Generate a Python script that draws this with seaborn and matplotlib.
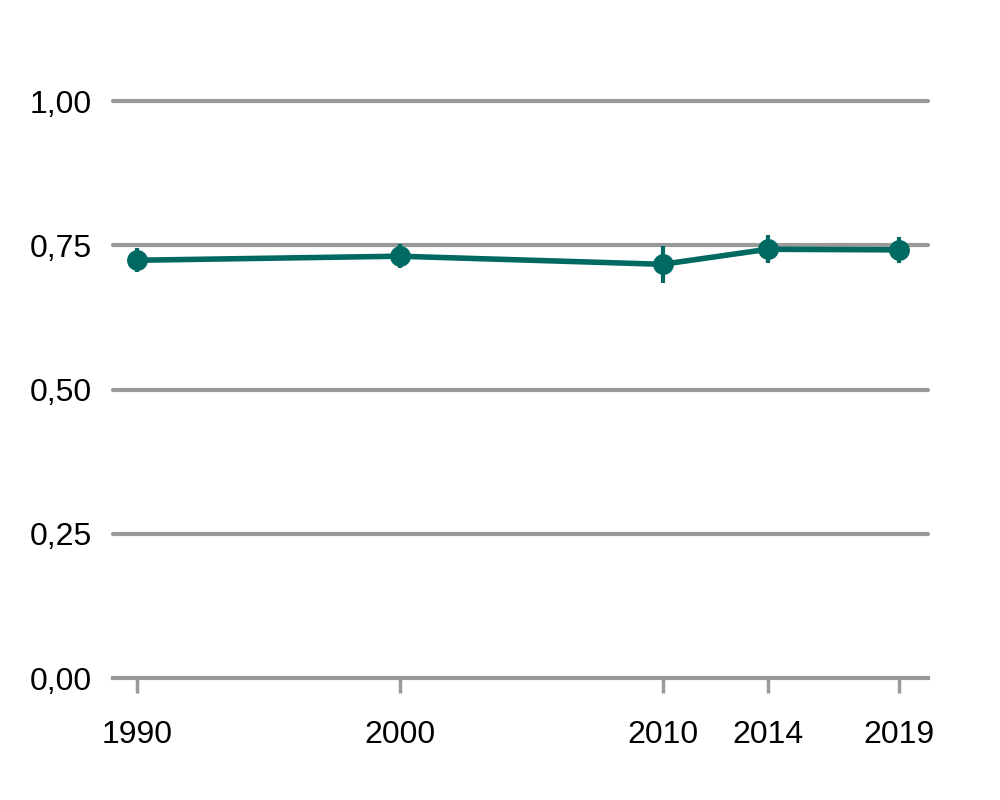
import matplotlib
matplotlib.use("Agg")
import matplotlib.pyplot as plt
import seaborn as sns
import pandas as pd
from matplotlib.ticker import FixedLocator, FuncFormatter

years = [1990, 2000, 2010, 2014, 2019]
values = [0.724, 0.731, 0.717, 0.743, 0.742]
errors = [0.021, 0.021, 0.032, 0.024, 0.023]
y_ticks = [0.0, 0.25, 0.5, 0.75, 1.0]

df = pd.DataFrame({"year": years, "value": values, "err": errors})

sns.set_theme(style="white")
plt.rcParams["font.family"] = ["Liberation Sans", "DejaVu Sans"]

color = "#006A62"
grid_color = "#999999"

fig = plt.figure(figsize=(10, 8), dpi=100)
ax = fig.add_axes([0.113, 0.1525, 0.815, 0.72125])

ax.errorbar(df["year"], df["value"], yerr=df["err"], fmt="none",
            ecolor=color, elinewidth=3, capsize=0, zorder=3)
sns.lineplot(data=df, x="year", y="value", ax=ax, color=color, linewidth=4,
             marker="o", markersize=15, markeredgewidth=0, zorder=4)

ax.set_xlim(1989.09, 2020.1)
ax.set_ylim(0, 1.0)
ax.yaxis.set_major_locator(FixedLocator(y_ticks))
ax.xaxis.set_major_locator(FixedLocator(years))
ax.yaxis.set_major_formatter(FuncFormatter(lambda v, p: f"{v:.2f}".replace(".", ",")))
ax.set_xlabel("")
ax.set_ylabel("")

for s in ["top", "right", "left"]:
    ax.spines[s].set_visible(False)
ax.spines["bottom"].set_color(grid_color)
ax.spines["bottom"].set_linewidth(3)

for yv in y_ticks[1:]:
    ax.axhline(yv, color=grid_color, linewidth=3, zorder=1, clip_on=False)

ax.tick_params(axis="y", length=0, pad=15, labelsize=23, labelcolor="black")
ax.tick_params(axis="x", length=11, width=2.5, color=grid_color, direction="out",
               pad=19, labelsize=23, labelcolor="black", bottom=True)

fig.savefig("out.png", dpi=100)
